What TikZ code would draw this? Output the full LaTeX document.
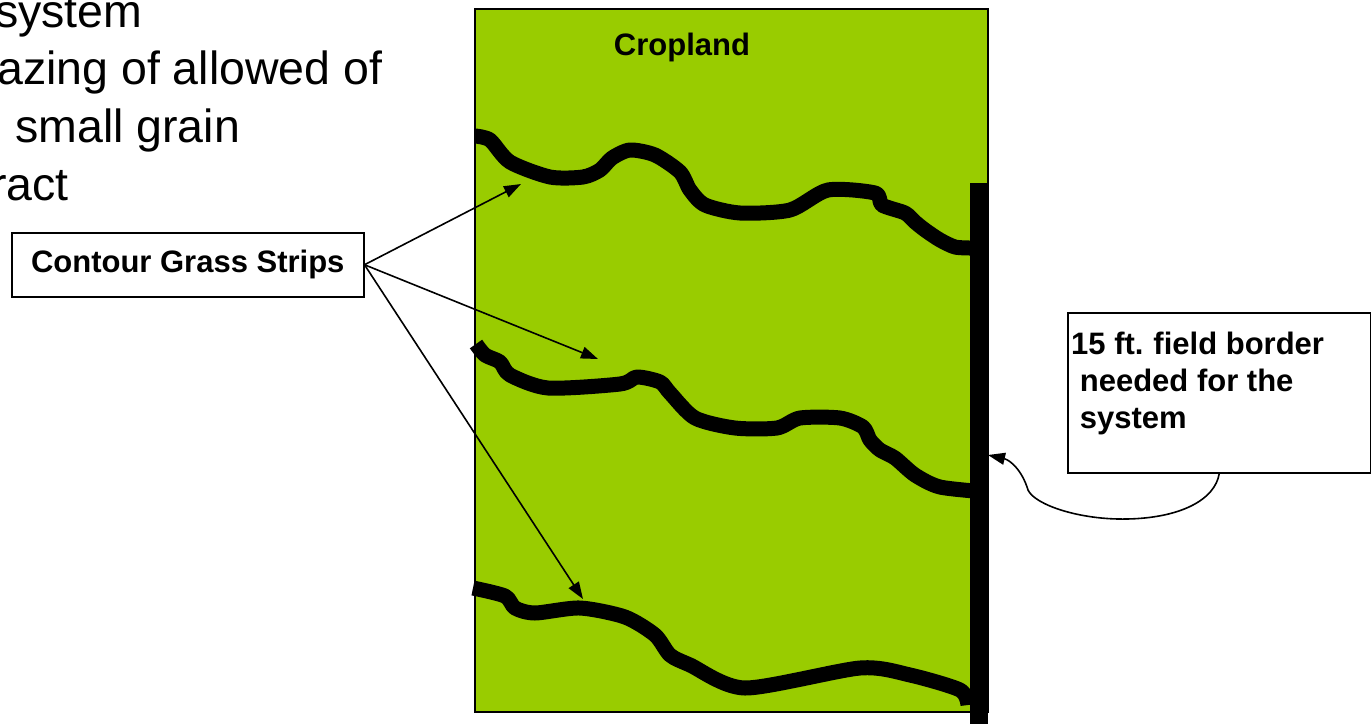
\documentclass[tikz,border=0pt]{standalone}
\usepackage{fontspec}
\setmainfont{Liberation Sans}
\usetikzlibrary{arrows.meta}
\definecolor{crop}{HTML}{99CC00}
\begin{document}
\begin{tikzpicture}[x=1pt,y=-1pt,
  strip/.style={line width=15pt, line join=round, line cap=butt},
  pointer/.style={line width=1.6pt, -{Triangle[length=17pt,width=12pt]}},
  lbl/.style={font=\bfseries\fontsize{31}{37}\selectfont},
  big/.style={font=\fontsize{46.5}{56}\selectfont, anchor=base west, inner sep=0}]
\useasboundingbox (0,0) rectangle (1371,724);
% slide text (cut at left edge)
\node[big] (l1) at (-5,27) {system};
\node[big] (l2) at (-3,84) {azing of allowed of};
\node[big] (l3) at (15,142) {small grain};
\node[big] (l4) at (-9,200) {ract};
% field
\node[draw, line width=2pt, fill=crop, minimum width=513pt, minimum height=703pt,
  anchor=north west, inner sep=0] (field) at (474,8) {};
\node[lbl, anchor=base] (cropl) at (682,55) {Cropland};
% contour strips
\draw[strip] plot[smooth, tension=0.45] coordinates {(475,136) (490,140) (510,162) (550,177) (583,177) (600,170) (612,158) (630,150) (655,155) (680,172) (690,190) (705,205) (740,213) (790,210) (828,190) (875,193) (882,205) (905,213) (915,222) (925,230) (940,240) (955,247) (970,248)};
\draw[strip] plot[smooth, tension=0.45] coordinates {(476,344) (485,355) (500,362) (510,375) (548,388) (620,384) (637,377) (660,382) (670,393) (695,418) (735,428) (777,428) (800,418) (840,418) (863,427) (870,440) (880,450) (895,458) (915,475) (940,487) (986,492)};
\draw[strip] plot[smooth, tension=0.45] coordinates {(473,588) (505,596) (515,608) (535,613) (580,608) (625,617) (655,635) (670,655) (690,665) (745,688) (860,668) (910,675) (960,690) (968,705)};
% field border bar
\fill (970,183) rectangle (988,724);
% labels
\node[draw, line width=1.5pt, lbl, minimum width=352pt, minimum height=64pt,
  inner sep=0, anchor=north west] (cgs) at (11,232) {Contour Grass Strips};
\coordinate (t1) at (521,184);
\coordinate (t2) at (598,359);
\coordinate (t3) at (583,599);
\draw[pointer] (cgs.east) -- (t1);
\draw[pointer] (cgs.east) -- (t2);
\draw[pointer] (cgs.east) -- (t3);
\node[draw, line width=1.5pt, fill=white, minimum width=303pt, minimum height=160pt,
  anchor=north west, inner sep=0] (fb) at (1067,312) {};
\node[lbl, anchor=north west, align=left, inner sep=0] (fbt) at (1071,332)
  {15 ft.\hspace{-0.05em} field border\\\hspace{0.28em}needed for the\\\hspace{0.28em}system};
\coordinate (bartip) at (988,455);
\draw[pointer] (fb.south) .. controls (1215,500) and (1180,518) .. (1127,519)
  .. controls (1080,520) and (1035,505) .. (1028,490)
  .. controls (1022,470) and (1010,460) .. (bartip);
\end{tikzpicture}
\end{document}
